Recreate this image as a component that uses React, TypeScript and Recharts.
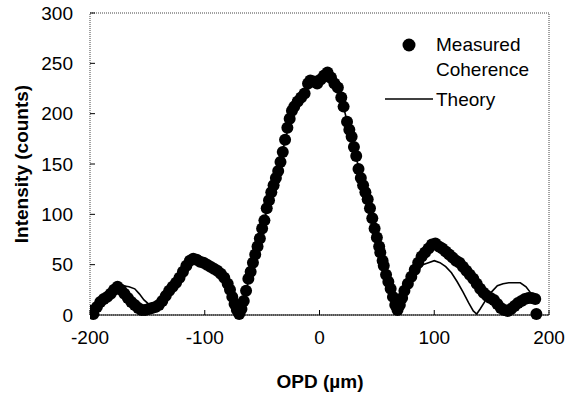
import {
  ComposedChart,
  Line,
  ReferenceArea,
  Scatter,
  XAxis,
  YAxis,
} from "recharts";

// measured coherence (OPD in µm, intensity in counts)
const measuredOpd = [
  -199, -197, -194, -191, -188, -185, -182, -179, -176, -173, -170, -167, -164, -161, -158, -155, -152, -149,
  -146, -143, -140, -137, -134, -131, -128, -125, -122, -119, -116, -113, -110, -107, -104, -101, -98, -95,
  -92, -89, -86, -83, -80, -78, -76, -74, -72, -70, -68, -66, -64, -62, -60, -58, -56, -54, -52, -50, -48,
  -46, -44, -42, -40, -38, -36, -34, -32, -30, -28, -26, -24, -22, -19, -16, -13, -10, -8, -5, -2, 1, 4, 7,
  10, 13, 16, 19, 21, 24, 26, 28, 30, 32, 34, 36, 38, 40, 42, 44, 46, 48, 50, 52, 53, 55, 56, 58, 60, 62, 64,
  66, 68, 70, 72, 74, 77, 80, 83, 86, 89, 92, 95, 98, 101, 104, 107, 110, 113, 116, 119, 122, 125, 128, 131,
  134, 137, 140, 143, 146, 149, 152, 155, 158, 161, 164, 167, 170, 173, 176, 179, 182, 185, 188, 189,
];
const measuredCounts = [
  4, 1, 8, 13, 16, 18, 21, 25, 28, 25, 21, 17, 13, 10, 7, 5, 5, 6,
  7, 8, 10, 14, 19, 24, 28, 32, 37, 43, 49, 54, 56, 55, 53, 52, 50, 48,
  46, 44, 41, 37, 31, 25, 18, 11, 5, 1, 6, 14, 24, 36, 43, 52, 60, 68, 76, 86, 94,
  106, 114, 122, 129, 136, 143, 152, 162, 174, 186, 195, 203, 207, 212, 216, 220, 230, 233, 232, 230, 234, 238, 241,
  236, 230, 226, 216, 207, 192, 184, 177, 167, 158, 145, 136, 129, 122, 115, 106, 96, 86, 77, 68, 62, 54, 49, 40, 33, 26, 18,
  10, 5, 10, 17, 24, 31, 38, 45, 52, 58, 62, 66, 70, 71, 68, 66, 63, 60, 57, 54, 52, 48, 44, 40,
  36, 31, 26, 22, 19, 17, 15, 11, 7, 5, 4, 6, 9, 12, 14, 16, 17, 17, 16, 1,
];

// theory curve
const theoryOpd = [
  -200, -195, -190, -185, -180, -176, -171, -166, -161, -157, -153, -149, -145, -141, -137, -133, -128, -123,
  -118, -113, -108, -103, -98, -93, -88, -83, -79, -76, -73, -70, -68, -65, -62, -58, -54, -50, -45, -40, -35,
  -30, -25, -20, -15, -10, -5, 0, 5, 10, 15, 20, 25, 30, 35, 40, 45, 50, 55, 60, 64, 68, 71, 75, 80, 85, 90,
  95, 100, 105, 110, 115, 120, 125, 130, 134, 137, 140, 145, 150, 155, 160, 165, 170, 175, 180, 184, 187,
];
const theoryCounts = [
  3, 8, 13, 19, 24, 28, 29, 28, 26, 21, 15, 11, 10, 11, 14, 21, 29, 37,
  46, 52, 53, 51, 48, 45, 41, 36, 28, 18, 8, 2, 6, 18, 34, 52, 68, 86, 108, 128, 150,
  173, 197, 210, 218, 228, 232, 233, 233, 230, 225, 211, 188, 166, 142, 122, 101, 77, 54, 33, 16, 4, 10, 22, 33, 43, 50,
  52, 54, 52, 48, 42, 33, 23, 12, 4, 1, 6, 15, 23, 29, 31, 32, 32, 32, 28, 22, 15,
];

const xTicks = [-200, -100, 0, 100, 200];
const yTicks = [0, 50, 100, 150, 200, 250, 300];

const measured = measuredOpd.map((opd, i) => ({ opd, counts: measuredCounts[i] }));
const theory = theoryOpd.map((opd, i) => ({ opd, counts: theoryCounts[i] }));

const FONT = "'Liberation Sans', Arial, sans-serif";
const tickStyle = { fill: "#000", fontSize: 19, fontFamily: FONT };

export default function App() {
  return (
    <div style={{ position: "fixed", left: 0, top: 0, width: 566, height: 397, background: "#fff" }}>
      <ComposedChart width={566} height={397} margin={{ top: 13, right: 17, bottom: 0, left: 0 }}>
        <XAxis
          type="number"
          dataKey="opd"
          domain={[-200, 200]}
          ticks={xTicks}
          height={82}
          stroke="#000"
          tickSize={-5}
          tickMargin={21}
          tick={tickStyle}
          allowDataOverflow
          label={{
            content: () => (
              <text x={320} y={381} textAnchor="middle" dominantBaseline="central" fontFamily={FONT} fontSize={19} fontWeight="bold">
                OPD (µm)
              </text>
            ),
          }}
        />
        <YAxis
          type="number"
          dataKey="counts"
          domain={[0, 300]}
          ticks={yTicks}
          width={90}
          axisLine={false}
          stroke="#000"
          tickSize={-5}
          tickMargin={22}
          tick={tickStyle}
          label={{
            content: () => (
              <text
                x={21}
                y={164}
                transform="rotate(-90 21 164)"
                textAnchor="middle"
                dominantBaseline="central"
                fontFamily={FONT}
                fontSize={19}
                fontWeight="bold"
              >
                Intensity (counts)
              </text>
            ),
          }}
        />
        <ReferenceArea x1={-200} x2={200} y1={0} y2={300} fill="none" stroke="#444" strokeDasharray="1 1" ifOverflow="visible" />
        <Line data={theory} dataKey="counts" type="linear" stroke="#000" strokeWidth={1.6} dot={false} isAnimationActive={false} />
        <Scatter data={measured} dataKey="counts" fill="#000" shape={(p: any) => <circle cx={p.cx} cy={p.cy} r={6} fill="#000" />} isAnimationActive={false} />
      </ComposedChart>
      <div style={{ position: "absolute", left: 0, top: 0, fontFamily: FONT, fontSize: 19, color: "#000", lineHeight: "25px" }}>
        <svg width={566} height={120} style={{ position: "absolute", left: 0, top: 0 }}>
          <circle cx={409} cy={45} r={6.5} fill="#000" />
          <line x1={385} x2={433} y1={99} y2={99} stroke="#000" strokeWidth={1.6} />
        </svg>
        <div style={{ position: "absolute", left: 436, top: 32, whiteSpace: "nowrap" }}>
          Measured
          <br />
          Coherence
        </div>
        <div style={{ position: "absolute", left: 436, top: 87, whiteSpace: "nowrap" }}>Theory</div>
      </div>
    </div>
  );
}
